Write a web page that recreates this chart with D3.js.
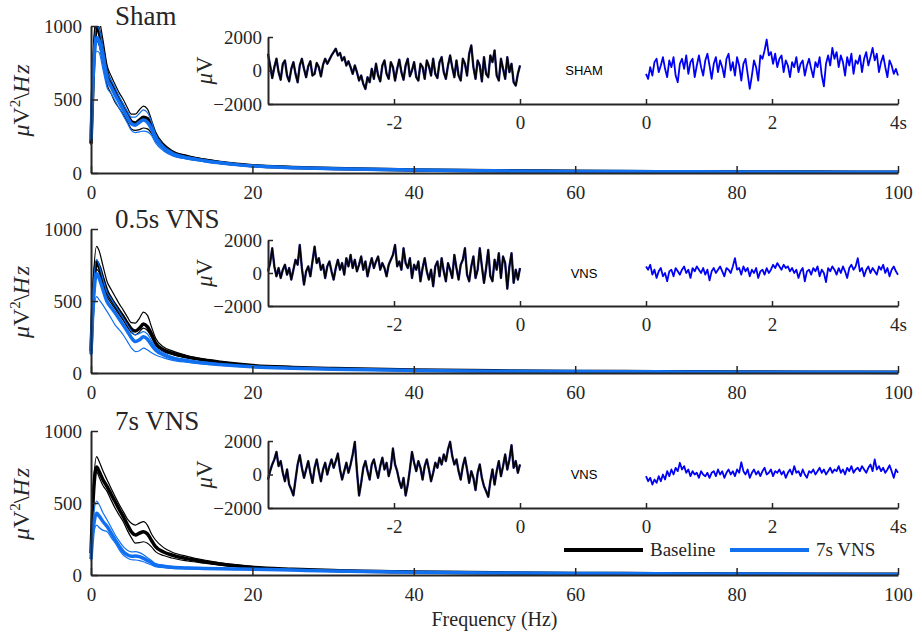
<!DOCTYPE html>
<html>
<head>
<meta charset="utf-8">
<script src="https://cdn.jsdelivr.net/npm/d3@7"></script>
<style>
body { margin: 0; background: #fff; }
text { font-family: "Liberation Serif", "Times New Roman", serif; fill: #262626; }
</style>
</head>
<body>
<svg width="922" height="635"></svg>
<script>
// spectrum frequencies (Hz)
var freqs = [0, 0.3, 0.7, 1, 1.5, 2, 2.5, 3, 3.5, 4, 4.5, 5, 5.5, 6, 6.5, 7, 7.5, 8, 9, 10, 12, 14, 16, 18, 20, 25, 30, 40, 50, 60, 70, 80, 90, 100];

// power, uV^2/Hz : mean, upper, lower
var shamBase   = [200, 700, 1010, 960, 820, 680, 610, 550, 500, 450, 400, 350, 340, 360, 380, 370, 320, 250, 180, 140, 108, 88, 72, 60, 50, 38, 30, 21, 15, 12, 9, 7, 6, 5];
var shamBaseHi = [210, 780, 1100, 1050, 900, 730, 660, 600, 545, 500, 445, 400, 400, 430, 455, 435, 360, 280, 200, 155, 118, 95, 78, 64, 54, 40, 32, 22, 16, 13, 10, 8, 6, 5];
var shamBaseLo = [190, 640, 900, 870, 740, 600, 540, 480, 440, 400, 350, 300, 290, 295, 306, 300, 270, 220, 160, 125, 98, 80, 66, 55, 46, 35, 28, 19, 14, 11, 8, 6, 5, 4];
var shamStim   = [230, 700, 920, 900, 780, 640, 585, 530, 480, 430, 380, 335, 325, 345, 360, 345, 300, 235, 170, 132, 102, 84, 69, 57, 48, 36, 29, 20, 15, 11, 9, 7, 5, 5];
var shamStimHi = [240, 760, 1000, 980, 850, 690, 630, 580, 520, 470, 420, 380, 380, 405, 430, 410, 350, 265, 185, 145, 110, 90, 74, 61, 51, 38, 30, 21, 16, 12, 9, 7, 6, 5];
var shamStimLo = [220, 640, 830, 820, 700, 580, 540, 490, 440, 390, 340, 290, 275, 280, 285, 280, 255, 205, 150, 120, 94, 78, 64, 53, 45, 34, 27, 19, 14, 10, 8, 6, 5, 4];

var shortBase   = [150, 560, 770, 740, 650, 565, 515, 472, 430, 391, 345, 305, 291, 310, 340, 320, 270, 208, 160, 139, 110, 90, 75, 62, 52, 39, 31, 21, 15, 11, 9, 7, 6, 5];
var shortBaseHi = [160, 650, 880, 850, 740, 634, 580, 530, 480, 437, 390, 350, 347, 380, 423, 400, 320, 243, 180, 155, 120, 97, 80, 66, 55, 41, 32, 22, 16, 12, 9, 7, 6, 5];
var shortBaseLo = [140, 520, 720, 700, 610, 530, 485, 445, 405, 365, 320, 280, 265, 285, 312, 295, 250, 195, 150, 130, 104, 86, 72, 60, 50, 38, 30, 20, 14, 11, 8, 7, 5, 4];
var shortStim   = [130, 500, 690, 660, 575, 495, 455, 416, 375, 333, 290, 245, 218, 230, 252, 235, 195, 160, 125, 104, 84, 69, 59, 50, 43, 33, 26, 18, 13, 10, 8, 6, 5, 4];
var shortStimHi = [140, 580, 790, 750, 650, 560, 515, 470, 425, 380, 335, 290, 265, 275, 287, 270, 225, 180, 140, 115, 92, 76, 64, 54, 46, 35, 28, 19, 14, 11, 8, 7, 5, 4];
var shortStimLo = [120, 400, 530, 510, 470, 426, 380, 333, 300, 264, 220, 175, 148, 155, 173, 160, 140, 125, 105, 90, 74, 62, 53, 45, 39, 30, 24, 16, 12, 9, 7, 6, 4, 4];

var longBase   = [150, 560, 750, 720, 660, 613, 560, 509, 455, 405, 350, 300, 278, 290, 301, 285, 240, 197, 160, 139, 112, 93, 77, 64, 53, 40, 31, 21, 15, 11, 9, 7, 6, 5];
var longBaseHi = [160, 620, 822, 790, 720, 660, 600, 544, 490, 440, 390, 360, 347, 360, 370, 345, 285, 243, 190, 160, 128, 104, 85, 70, 58, 43, 33, 22, 16, 12, 9, 7, 6, 5];
var longBaseLo = [140, 520, 717, 680, 620, 579, 520, 463, 415, 370, 310, 260, 222, 225, 231, 220, 195, 162, 135, 118, 97, 82, 69, 58, 49, 37, 29, 20, 14, 11, 8, 6, 5, 4];
var longStim   = [110, 330, 428, 410, 370, 336, 290, 243, 200, 162, 140, 130, 132, 128, 115, 100, 85, 69, 60, 53, 48, 46, 44, 42, 40, 34, 28, 19, 14, 11, 8, 7, 5, 4];
var longStimHi = [120, 400, 514, 490, 430, 382, 330, 278, 235, 197, 172, 160, 162, 155, 140, 120, 100, 80, 68, 60, 53, 50, 47, 45, 42, 36, 29, 20, 15, 11, 9, 7, 5, 4];
var longStimLo = [100, 280, 347, 330, 310, 301, 260, 222, 175, 139, 118, 106, 104, 100, 92, 80, 70, 58, 51, 46, 43, 41, 39, 38, 36, 31, 26, 18, 13, 10, 8, 6, 5, 4];

// example raw traces (uV), 4 s before (baseline) and 4 s after onset
var shamPre = [1000, 300, -450, 200, 700, -100, -550, 400, 600, -300,
  -650, 100, 500, -200, -700, 300, 700, 100, -400, 250,
  550, -300, -200, 450, 200, -350, 350, 700, 400, 650,
  900, 1100, 1300, 900, 1050, 600, 800, 300, 550, 200,
  -200, 300, -100, -600, -300, -800, -1100, -400, -700, 100,
  -500, 400, -300, -650, 300, 600, -200, -500, 500, 200,
  -600, 100, 650, -100, -550, 300, 700, -350, 0, 500,
  -400, -600, 400, 200, -500, 600, 250, -300, 700, -200,
  -450, 500, 800, -100, -500, 300, 900, 200, -400, 600,
  -300, -600, 700, 400, -300, 1000, 1500, 200, -500, 600,
  300, -650, 800, -200, -400, 900, 500, 1200, -300, -600,
  700, 100, -500, 800, -100, 400, -700, -900, -200, 300];
var shamPost = [-200, -500, 200, -300, 500, 700, -100, 300, 800, 100,
  -400, 600, 200, 800, -300, -700, 400, 700, 100, 900,
  -200, 500, 700, -400, 300, 900, 200, -300, 600, 1000,
  300, -500, 400, 800, -100, 600, 200, -400, 700, 1000,
  0, 500, -300, 800, 300, -600, 400, 700, -200, -1100,
  -300, 600, 200, -600, 900, 700, 1200, 1850, 900, 1100,
  400, 1000, 200, 700, 900, -100, 600, 300, -400, 500,
  200, 800, -100, 400, 600, -300, 300, 700, 100, -400,
  500, 200, 800, -300, -950, 400, 900, 300, 1350, 700,
  1100, 200, 900, 500, -300, 800, 300, 1000, -200, 600,
  400, 900, -100, 700, 1100, 300, 800, 1350, 600, 1000,
  -100, 500, 900, 200, -400, 600, 300, -200, 100, -300];
var shortPre = [100, 600, 1500, 400, -200, 300, -300, 200, 500, -100,
  300, -400, 200, 800, 500, 1700, 300, -700, 100, 400,
  -200, 700, 1600, 600, 900, 200, 500, -300, 400, 700,
  100, -400, 300, 800, 200, 600, -100, 900, 400, 1100,
  300, 800, 100, 500, 1000, 200, 700, -200, 400, 900,
  300, 700, 1000, 200, 600, 300, -200, 500, 800, 1100,
  1700, 400, 700, 200, 1500, 600, 300, 900, -300, 500,
  200, 700, -500, 300, 900, 100, -400, 200, -800, 400,
  700, -200, 900, 100, -500, 600, 200, -300, 1100, 300,
  -400, 500, 800, 1500, -100, -500, 400, 1000, -300, 200,
  1500, 400, -600, 300, 1400, -200, -500, 800, 200, 1200,
  -300, 1000, 600, -950, 400, 1200, -600, 200, -400, 300];
var shortPost = [400, 200, 500, -100, 200, -300, 100, 300, -200, 0,
  -500, 100, 200, -200, 300, 100, -100, 200, 400, 0,
  200, -300, 300, 100, 400, 200, 0, 300, -100, 200,
  -450, 100, 300, 0, 200, 400, 100, -200, 300, 200,
  0, 400, 900, 200, 300, -100, 400, 100, 300, -200,
  200, 0, 300, -300, 100, 200, -100, 300, 0, 200,
  500, 300, 600, 400, 200, 500, 300, 400, 100, 300,
  0, 200, -300, 100, 300, -500, 100, 200, -100, 300,
  100, 400, -200, 200, 0, -550, 300, 100, 400, 200,
  -100, 300, 0, 400, 100, -300, 300, 500, 200, 400,
  900, 100, 300, -200, 200, 400, 0, 300, 100, -100,
  400, 200, 500, 0, 300, -200, 200, 400, 100, -100];
var longPre = [-300, 200, 600, 900, 1350, 500, 800, 100, -400, 300,
  -600, -900, -1250, -300, 600, 1150, 400, -200, 300, 800,
  100, -500, 400, 900, 200, -400, 300, 700, 0, 500,
  900, 400, 800, 1250, 300, -300, 200, 700, 100, 600,
  1200, 1950, 200, -1250, -500, 400, 800, 200, -300, 600,
  900, 300, -200, 500, 1000, 300, 700, -100, 400, 1550,
  600, 200, -400, -800, -200, -1250, -600, 300, 1350, 700,
  200, 800, 400, -300, 500, 900, 300, -400, 100, 700,
  400, 1000, 600, 1200, 800, 1500, 1950, 1100, 600, 900,
  200, -300, 500, 1000, 300, -500, 200, -200, -930, 100,
  600, -200, -700, -1000, -1330, -400, 300, -600, 200, 800,
  -100, 500, 1200, 300, 900, 1750, 400, 800, 100, 600];
var longPost = [-100, -400, -200, -600, -300, -500, -100, -400, 0, -300,
  200, -100, 300, 0, 400, 200, 700, 300, 500, 100,
  300, -100, 200, 0, 100, -200, 200, 0, -100, 100,
  -200, 100, 200, -100, 300, 0, 200, -200, 100, 300,
  0, 200, -100, 300, 100, 730, 200, 0, 300, -200,
  100, 300, 0, 200, -100, 200, 400, 0, 100, 300,
  -100, 200, 100, 300, 0, 200, -200, 100, 300, 0,
  500, 100, 200, -100, 300, 0, -200, 200, 100, 300,
  0, 200, 400, 100, 300, 0, 200, 400, 100, 300,
  200, 500, 100, 300, 0, 400, 200, 500, 100, 300,
  400, 200, 500, 300, 100, 400, 600, 200, 900, 300,
  500, 200, 400, 100, 300, 550, 200, -200, 300, 100];

var titles = ['Sham', '0.5s VNS', '7s VNS'];
var insetNames = ['SHAM', 'VNS', 'VNS'];
var freqTicks = [0, 20, 40, 60, 80, 100];
var powerTicks = [0, 500, 1000];
var uvTicks = [-2000, 0, 2000];
var timeTicks = [-2, 0, 2, 4, 6];
var timeLabels = ['-2', '0', '0', '2', '4s'];

var panels = [
  { top: 26, bottom: 173, base: [shamBase, shamBaseHi, shamBaseLo], stim: [shamStim, shamStimHi, shamStimLo], pre: shamPre, post: shamPost, inTop: 37, inBottom: 104 },
  { top: 229, bottom: 373, base: [shortBase, shortBaseHi, shortBaseLo], stim: [shortStim, shortStimHi, shortStimLo], pre: shortPre, post: shortPost, inTop: 240, inBottom: 306 },
  { top: 431, bottom: 575, base: [longBase, longBaseHi, longBaseLo], stim: [longStim, longStimHi, longStimLo], pre: longPre, post: longPost, inTop: 441, inBottom: 508 }
];

var axisColor = '#262626';
var blue = '#1070f0';
var serif = '"Liberation Serif", "Times New Roman", serif';
var svg = d3.select('svg');

var xScale = d3.scaleLinear().domain([0, 100]).range([91, 898]);
// inset time axis: baseline -4..0, gap, stim 0..4 drawn at +2
var tScale = d3.scaleLinear().domain([-4, 6]).range([268, 898]);

function styleAxis(g, size) {
  g.attr('font-size', null).attr('font-family', null);
  g.selectAll('path.domain').attr('stroke', axisColor).attr('stroke-width', 2);
  g.selectAll('.tick line').attr('stroke', axisColor).attr('stroke-width', 1.5);
  g.selectAll('.tick text').attr('fill', axisColor)
    .style('font-family', serif)
    .style('font-size', size + 'px');
}

panels.forEach(function(p, k) {
  var yScale = d3.scaleLinear().domain([0, 1000]).range([p.bottom, p.top]);

  svg.append('clipPath').attr('id', 'clip' + k)
    .append('rect').attr('x', 80).attr('y', p.top).attr('width', 830).attr('height', p.bottom - p.top + 10);

  var line = d3.line()
    .x(function(d, i) { return xScale(freqs[i]); })
    .y(function(d) { return yScale(d); })
    .curve(d3.curveMonotoneX);

  var lines = svg.append('g').attr('clip-path', 'url(#clip' + k + ')');
  [p.base[1], p.base[2]].forEach(function(s) {
    lines.append('path').attr('d', line(s)).attr('fill', 'none').attr('stroke', '#000').attr('stroke-width', 1.2);
  });
  lines.append('path').attr('d', line(p.base[0])).attr('fill', 'none').attr('stroke', '#000').attr('stroke-width', 3.5);
  [p.stim[1], p.stim[2]].forEach(function(s) {
    lines.append('path').attr('d', line(s)).attr('fill', 'none').attr('stroke', blue).attr('stroke-width', 1.2);
  });
  lines.append('path').attr('d', line(p.stim[0])).attr('fill', 'none').attr('stroke', blue).attr('stroke-width', 3.5);

  var gx = svg.append('g')
    .attr('transform', 'translate(0,' + p.bottom + ')')
    .call(d3.axisBottom(xScale).tickValues(freqTicks).tickFormat(d3.format('d'))
      .tickSizeInner(-7).tickSizeOuter(0).tickPadding(13));
  styleAxis(gx, 19);

  var gy = svg.append('g')
    .attr('transform', 'translate(' + xScale(0) + ',0)')
    .call(d3.axisLeft(yScale).tickValues(powerTicks).tickFormat(d3.format('d'))
      .tickSizeInner(-7).tickSizeOuter(0).tickPadding(9));
  styleAxis(gy, 19);

  svg.append('text')
    .attr('x', 115).attr('y', p.top - 1)
    .attr('font-size', 27)
    .text(titles[k]);

  var ylab = svg.append('text')
    .attr('transform', 'translate(29,' + ((p.top + p.bottom) / 2) + ') rotate(-90)')
    .attr('text-anchor', 'middle')
    .attr('font-size', 24);
  ylab.append('tspan').attr('font-style', 'italic').text('μ');
  ylab.append('tspan').text('V');
  ylab.append('tspan').attr('font-size', 15).attr('dy', -9).text('2');
  ylab.append('tspan').attr('dy', 9).text('\\');
  ylab.append('tspan').attr('font-style', 'italic').attr('letter-spacing', 2).text('Hz');

  // inset with raw traces
  var uvScale = d3.scaleLinear().domain([-2000, 2000]).range([p.inBottom, p.inTop]);
  var n = p.pre.length;
  var preLine = d3.line()
    .x(function(d, i) { return tScale(-4 + 4 * i / (n - 1)); })
    .y(function(d) { return uvScale(d); });
  var postLine = d3.line()
    .x(function(d, i) { return tScale(2 + 4 * i / (p.post.length - 1)); })
    .y(function(d) { return uvScale(d); });

  svg.append('path').attr('d', preLine(p.pre)).attr('fill', 'none')
    .attr('stroke', '#303088').attr('stroke-width', 2.4).attr('stroke-linejoin', 'round');
  svg.append('path').attr('d', preLine(p.pre)).attr('fill', 'none')
    .attr('stroke', '#000').attr('stroke-width', 1.5).attr('stroke-linejoin', 'round');
  svg.append('path').attr('d', postLine(p.post)).attr('fill', 'none')
    .attr('stroke', '#0000f5').attr('stroke-width', 1.8).attr('stroke-linejoin', 'round');

  var ix = svg.append('g')
    .attr('transform', 'translate(0,' + p.inBottom + ')')
    .call(d3.axisBottom(tScale).tickValues(timeTicks)
      .tickFormat(function(d, i) { return timeLabels[i]; })
      .tickSizeInner(-5).tickSizeOuter(0).tickPadding(12));
  styleAxis(ix, 19);

  var iy = svg.append('g')
    .attr('transform', 'translate(' + tScale(-4) + ',0)')
    .call(d3.axisLeft(uvScale).tickValues(uvTicks).tickFormat(d3.format('d'))
      .tickSizeInner(-5).tickSizeOuter(0).tickPadding(6));
  styleAxis(iy, 19);

  var uvl = svg.append('text')
    .attr('transform', 'translate(212,' + ((p.inTop + p.inBottom) / 2) + ') rotate(-90)')
    .attr('text-anchor', 'middle')
    .attr('font-size', 23);
  uvl.append('tspan').attr('font-style', 'italic').text('μ');
  uvl.append('tspan').text('V');

  svg.append('text')
    .attr('x', 584).attr('y', (p.inTop + p.inBottom) / 2 + 4.5)
    .attr('text-anchor', 'middle')
    .style('font-family', '"Liberation Sans", Arial, sans-serif')
    .attr('font-size', 13)
    .style('fill', '#000')
    .text(insetNames[k]);
});

svg.append('text')
  .attr('x', xScale(50)).attr('y', 626)
  .attr('text-anchor', 'middle')
  .attr('font-size', 20)
  .text('Frequency (Hz)');

// legend
var legend = svg.append('g');
legend.append('line').attr('x1', 564).attr('x2', 643).attr('y1', 550).attr('y2', 550)
  .attr('stroke', '#000').attr('stroke-width', 4);
legend.append('text').attr('x', 650).attr('y', 556).attr('font-size', 19).text('Baseline');
legend.append('line').attr('x1', 730).attr('x2', 809).attr('y1', 550).attr('y2', 550)
  .attr('stroke', blue).attr('stroke-width', 4);
legend.append('text').attr('x', 816).attr('y', 556).attr('font-size', 19).text('7s VNS');
</script>
</body>
</html>
